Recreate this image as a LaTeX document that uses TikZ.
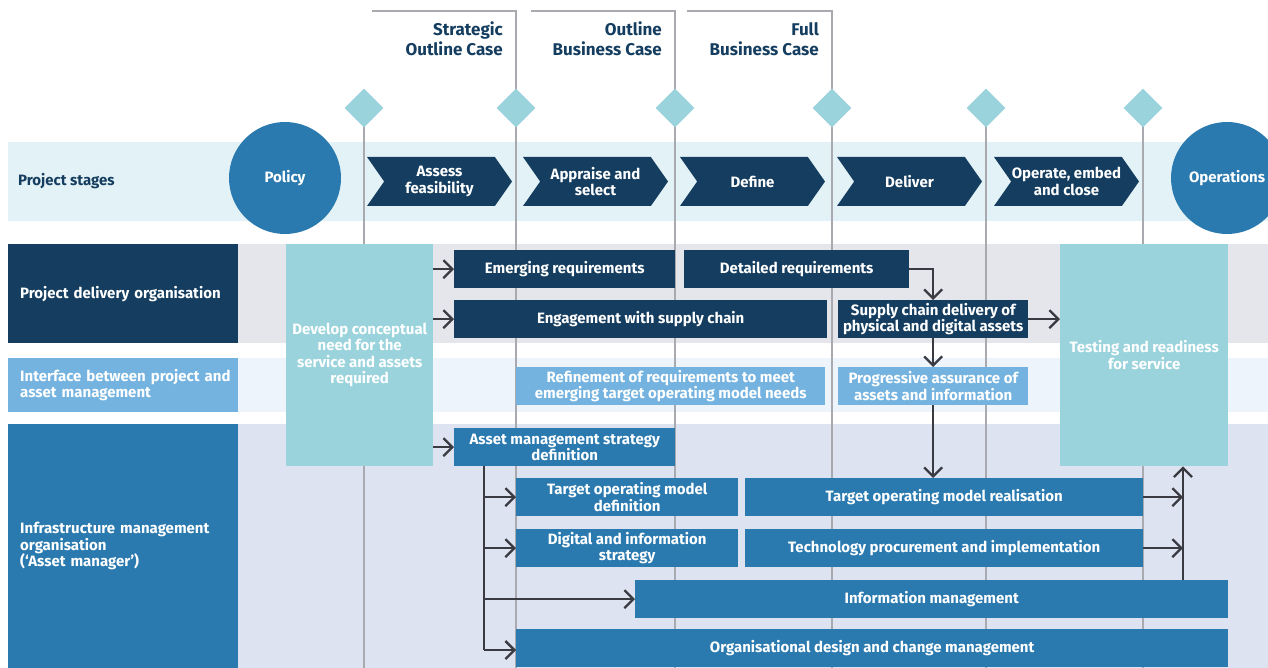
\documentclass[tikz,border=0pt]{standalone}
\usepackage{fontspec}
\setmainfont{Fira Sans}
\usetikzlibrary{arrows.meta,shapes.geometric,shapes.symbols}
\definecolor{navy}{HTML}{143D5F}
\definecolor{midblue}{HTML}{2A7AB0}
\definecolor{lightblue}{HTML}{74B3E0}
\definecolor{teal}{HTML}{9AD3DC}
\definecolor{stageband}{HTML}{E3F2F6}
\definecolor{pdoband}{HTML}{E4E6EC}
\definecolor{ifband}{HTML}{EEF4FB}
\definecolor{imoband}{HTML}{DDE3F0}
\definecolor{greyline}{HTML}{A9AAAF}
\definecolor{arrowgrey}{HTML}{3A3B42}
\begin{document}
\begin{tikzpicture}[x=1pt,y=-1pt,
        font=\bfseries\fontsize{15}{16.5}\selectfont,
        rule/.style={draw=greyline,line width=1.4pt},
        gate/.style={diamond,aspect=1,fill=teal,minimum width=39,minimum height=39,inner sep=0pt},
        disc/.style={circle,fill=midblue,text=white,minimum size=112,inner sep=0pt},
        stage/.style={signal,signal to=east,signal from=west,signal pointer angle=110,
            fill=navy,text=white,align=center,minimum width=145,minimum height=49,inner sep=0pt},
        box/.style={anchor=north west,inner sep=0pt,align=center,text=white},
        wh/.style 2 args={minimum width=#1,minimum height=#2},
        lane/.style={anchor=north west,text=white,align=left,inner xsep=12pt,inner ysep=0pt,
            text width=206,minimum width=230},
        head/.style={anchor=north east,align=right,text=navy,inner sep=0pt,
            font=\bfseries\fontsize{17}{20}\selectfont},
        arr/.style={draw=arrowgrey,line width=2.3pt,-{Straight Barb[length=9pt,width=18pt]}}]
\clip (0,0) rectangle (1268,668);

% bands
\fill[stageband] (8,142) rectangle (1268,221);
\fill[pdoband] (238,244) rectangle (1268,343);
\fill[ifband] (238,358) rectangle (1268,412);
\fill[imoband] (238,424) rectangle (1268,668);

% gateways
\foreach \a/\b in {372/516,531/675,687/832}
    \draw[rule] (\a,11) -| (\b,668);
\foreach \x in {364,986,1143}
    \draw[rule] (\x,108) -- (\x,668);
\foreach \x [count=\i] in {364,516,675,832,986,1143}
    \node[gate] (g\i) at (\x,108) {};

\node[head] (soc) at (503,22) {Strategic\\Outline Case};
\node[head] (obc) at (662,22) {Outline\\Business Case};
\node[head] (fbc) at (819,22) {Full\\Business Case};

% project stages
\node[anchor=west,text=navy,inner sep=0pt] (lstages) at (18,181) {Project stages};
\node[disc] (policy) at (285,178) {Policy};
\node[disc] (ops) at (1227,178) {Operations};
\foreach \x/\t [count=\i] in {439.5/{Assess\\feasibility},595.5/{Appraise and\\select},
        752.5/{Define},909.5/{Deliver},1066.5/{Operate, embed\\and close}}
    \node[stage] (st\i) at (\x,181.5) {\t};

% lanes
\node[lane,fill=navy,minimum height=99] (lpdo) at (8,244) {Project delivery organisation};
\node[lane,fill=lightblue,minimum height=54] (lif) at (8,358) {\mbox{Interface between project and}\\asset management};
\node[lane,fill=midblue,minimum height=244] (limo) at (8,424) {Infrastructure management\\organisation\\(‘Asset manager’)};

% activities
\node[box,fill=teal,wh={147}{222}] (develop) at (286,244) {Develop conceptual\\need for the\\service and assets\\required};
\node[box,fill=teal,wh={168}{222}] (testing) at (1060,244) {Testing and readiness\\for service};

\node[box,fill=navy,wh={221}{38}] (emerg) at (454,250) {Emerging requirements};
\node[box,fill=navy,wh={225}{38}] (detailed) at (684,250) {Detailed requirements};
\node[box,fill=navy,wh={373}{38}] (engage) at (454,300) {Engagement with supply chain};
\node[box,fill=navy,wh={190}{38}] (supply) at (838,300) {Supply chain delivery of\\physical and digital assets};

\node[box,fill=lightblue,wh={309}{38}] (refine) at (516,367) {Refinement of requirements to meet\\emerging target operating model needs};
\node[box,fill=lightblue,wh={190}{38}] (progress) at (838,367) {Progressive assurance of\\assets and information};

\node[box,fill=midblue,wh={221}{38}] (asset) at (454,428) {Asset management strategy\\definition};
\node[box,fill=midblue,wh={222}{38}] (tomdef) at (516,478) {Target operating model\\definition};
\node[box,fill=midblue,wh={398}{38}] (tomreal) at (745,478) {Target operating model realisation};
\node[box,fill=midblue,wh={222}{38}] (digital) at (516,529) {Digital and information\\strategy};
\node[box,fill=midblue,wh={398}{38}] (techproc) at (745,529) {Technology procurement and implementation};
\node[box,fill=midblue,wh={593}{38}] (infomgmt) at (635,580) {Information management};
\node[box,fill=midblue,wh={712}{38}] (orgdesign) at (516,629) {Organisational design and change management};

% flows
\coordinate (trunk) at (484,0);
\coordinate (riser) at (1183,0);
\draw[arr] (develop.east |- emerg) -- (emerg.west);
\draw[arr] (develop.east |- engage) -- (engage.west);
\draw[arr] (develop.east |- asset) -- (asset.west);
\draw[arr] (detailed.east) -| (supply.north);
\draw[arr] (supply.east) -- (testing.west |- supply.east);
\draw[arr] (supply.south) -- (progress.north);
\draw[arr] (progress.south) -- (progress.south |- tomreal.north);
\draw[line width=2.3pt,draw=arrowgrey] (asset.south -| trunk) -- (trunk |- 0,650);
\draw[arr] (trunk |- tomdef) -- (tomdef.west);
\draw[arr] (trunk |- digital) -- (digital.west);
\draw[arr] (trunk |- infomgmt) -- (infomgmt.west);
\draw[arr] (trunk |- 0,650) -- (orgdesign.west |- 0,650);
\draw[arr] (tomreal.east) -- (riser |- tomreal);
\draw[arr] (techproc.east) -- (riser |- techproc);
\draw[arr] (infomgmt.north -| riser) -- (testing.south -| riser);
\end{tikzpicture}
\end{document}
